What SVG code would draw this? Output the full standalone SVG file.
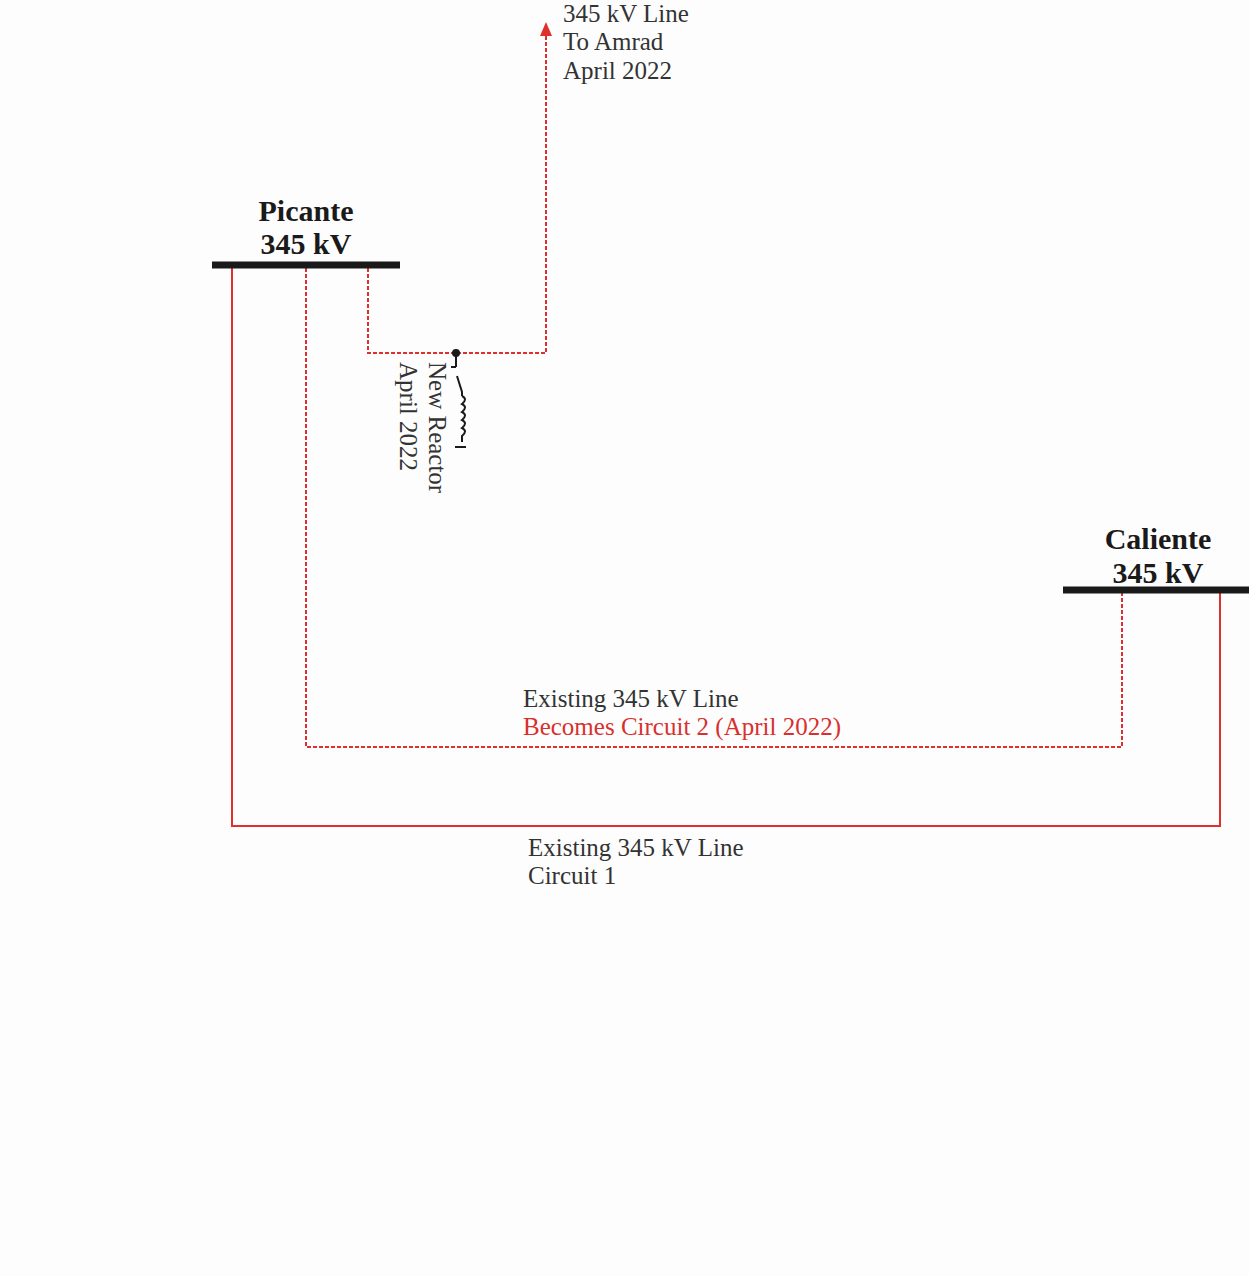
<svg xmlns="http://www.w3.org/2000/svg" width="1249" height="1276" viewBox="0 0 1249 1276">
<defs>
<style>
.bus{stroke:#1a1a1a;stroke-width:7;fill:none}
.solid{stroke:#e0302e;stroke-width:2;fill:none}
.dash{stroke:#e0302e;stroke-width:2;fill:none;stroke-dasharray:4 2}
.lbl{font-family:"Liberation Serif",serif;font-size:25px;fill:#333}
.red{fill:#d9302e}
.bold{font-family:"Liberation Serif",serif;font-size:30px;font-weight:bold;fill:#1a1a1a;text-anchor:middle}
.sym{stroke:#1a1a1a;stroke-width:2;fill:none}
</style>
</defs>
<rect width="1249" height="1276" fill="#fdfdfd"/>
<g id="connectors">
<polyline class="solid" points="232,266 232,826 1220,826 1220,592"/>
<polyline class="dash" points="306,268 306,747 1122,747 1122,592"/>
<polyline class="dash" points="368,268 368,353 546,353 546,36"/>
<path d="M540,36 L546,22 L552,36 Z" fill="#e0302e"/>
</g>
<g id="picante">
<line class="bus" x1="212" y1="265" x2="400" y2="265"/>
<text class="bold" x="306" y="221">Picante</text>
<text class="bold" x="306" y="254">345 kV</text>
</g>
<g id="caliente">
<line class="bus" x1="1063" y1="590" x2="1249" y2="590"/>
<text class="bold" x="1158" y="549">Caliente</text>
<text class="bold" x="1158" y="583">345 kV</text>
</g>
<g id="reactor">
<circle cx="456" cy="353" r="4" fill="#1a1a1a"/>
<line class="sym" x1="456" y1="353" x2="456" y2="367"/>
<line class="sym" x1="451" y1="367" x2="456" y2="367"/>
<polyline class="sym" points="457,376 462,392 462,396"/>
<path class="sym" d="M462,396 q6,3 0,8 q6,3 0,8 q6,3 0,8 q6,3 0,8 q6,3 0,8 L462,442"/>
<line class="sym" x1="455" y1="447" x2="466" y2="447"/>
<text class="lbl" transform="translate(429,362) rotate(90)">New Reactor</text>
<text class="lbl" transform="translate(400,362) rotate(90)">April 2022</text>
</g>
<g id="amrad-label">
<text class="lbl" x="563" y="22">345 kV Line</text>
<text class="lbl" x="563" y="50">To Amrad</text>
<text class="lbl" x="563" y="79">April 2022</text>
</g>
<g id="circuit2-label">
<text class="lbl" x="523" y="707">Existing 345 kV Line</text>
<text class="lbl red" x="523" y="735">Becomes Circuit 2 (April 2022)</text>
</g>
<g id="circuit1-label">
<text class="lbl" x="528" y="856">Existing 345 kV Line</text>
<text class="lbl" x="528" y="884">Circuit 1</text>
</g>
</svg>
